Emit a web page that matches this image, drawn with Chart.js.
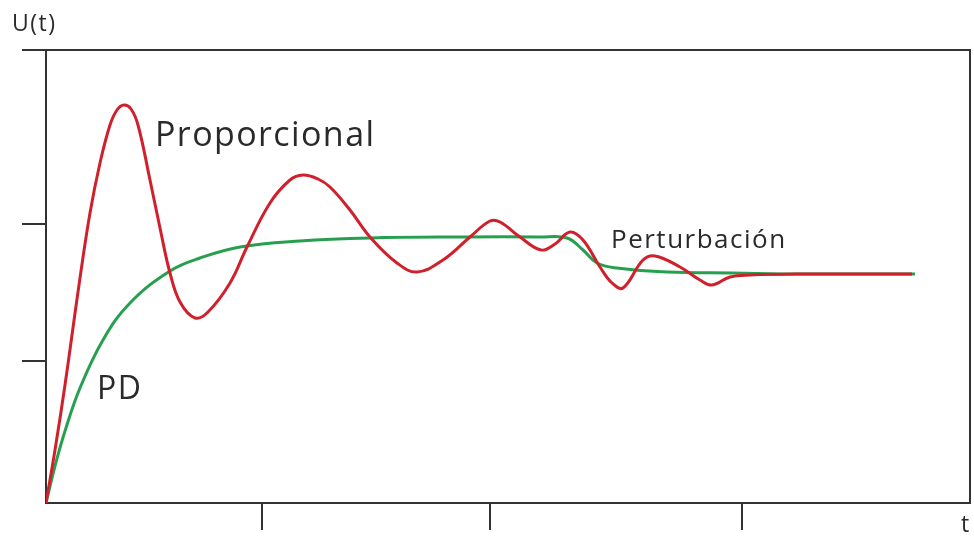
<!DOCTYPE html>
<html>
<head>
<meta charset="utf-8">
<script src="https://cdn.jsdelivr.net/npm/chart.js@4.4.1/dist/chart.umd.min.js"></script>
<style>
  html, body { margin: 0; padding: 0; background: #fff; }
  #wrap { position: relative; width: 974px; height: 540px; }
  .lbl { position: absolute; font-family: 'Open Sans', sans-serif; color: #2a2a2a; line-height: 1; white-space: nowrap; }
</style>
</head>
<body>
<div id="wrap">
  <canvas id="chart" width="974" height="540"></canvas>
  <div class="lbl" style="left:12px;top:11px;font-size:23px;letter-spacing:1.5px">U(t)</div>
  <div class="lbl" style="left:155px;top:116px;font-size:34px;letter-spacing:1.4px">Proporcional</div>
  <div class="lbl" style="left:611px;top:225px;font-size:26px;letter-spacing:1.5px">Perturbación</div>
  <div class="lbl" style="left:97px;top:371px;font-size:32px;letter-spacing:1.5px">PD</div>
  <div class="lbl" style="left:961px;top:512px;font-size:23px">t</div>
</div>
<script>
// x: time units (0..924), y: response units (0..453)
const xTicks = [216, 444, 696]
const yTicks = [142, 279, 453]

const propT = [0, 9, 19, 26, 34, 44, 54, 64, 71, 78, 85, 92, 104, 114, 124, 134, 149, 162, 184, 201, 224, 244, 257, 272, 284, 304, 324, 351, 371, 397, 424, 444, 454, 474, 495, 509, 524, 537, 554, 566, 577, 597, 609, 634, 654, 666, 684, 704, 754, 866]
const propU = [0, 53, 118, 168, 225, 290, 340, 378, 393, 398, 394, 378, 323, 275, 230, 201, 185, 191, 220, 256, 300, 323, 328, 324, 316, 293, 266, 240, 231, 243, 266, 282, 281, 266, 253, 259, 271, 263, 236, 220, 215, 243, 247, 236, 223, 218, 226, 228, 229, 229]

const pdT = [0, 9, 19, 34, 57, 84, 124, 154, 194, 254, 324, 414, 494, 521, 537, 551, 571, 621, 687, 754, 869]
const pdU = [0, 37, 72, 115, 163, 200, 232, 245, 256, 262, 265, 266, 266, 265, 253, 240, 235, 231, 230, 229, 229]

const toPts = (xs, ys) => xs.map((x, i) => ({ x, y: ys[i] }))

const boxPlugin = {
  id: 'box',
  afterDraw(chart) {
    const { ctx, chartArea: a } = chart
    ctx.save()
    ctx.strokeStyle = '#333'
    ctx.lineWidth = 2
    ctx.beginPath()
    ctx.moveTo(a.left, a.top)
    ctx.lineTo(a.right, a.top)
    ctx.lineTo(a.right, a.bottom)
    ctx.stroke()
    ctx.restore()
  }
}

new Chart(document.getElementById('chart'), {
  type: 'line',
  data: {
    datasets: [
      {
        label: 'Proporcional',
        data: toPts(propT, propU),
        borderColor: '#d0202c',
        borderWidth: 3,
        pointRadius: 0,
        tension: 0.4,
      },
      {
        label: 'PD',
        data: toPts(pdT, pdU),
        borderColor: '#26a04e',
        borderWidth: 3,
        pointRadius: 0,
        tension: 0.4,
      },
    ],
  },
  options: {
    responsive: false,
    animation: false,
    layout: { padding: { left: 22, top: 50, right: 4, bottom: 10 } },
    plugins: { legend: { display: false }, tooltip: { enabled: false } },
    scales: {
      x: {
        type: 'linear', min: 0, max: 924,
        afterBuildTicks: s => { s.ticks = xTicks.map(v => ({ value: v })) },
        ticks: { display: false },
        grid: { drawOnChartArea: false, tickLength: 27, color: '#333', lineWidth: 2 },
        border: { color: '#333', width: 2 },
      },
      y: {
        type: 'linear', min: 0, max: 453,
        afterBuildTicks: s => { s.ticks = yTicks.map(v => ({ value: v })) },
        ticks: { display: false },
        grid: { drawOnChartArea: false, tickLength: 24, color: '#333', lineWidth: 2 },
        border: { color: '#333', width: 2 },
      },
    },
  },
  plugins: [boxPlugin],
})
</script>
</body>
</html>
